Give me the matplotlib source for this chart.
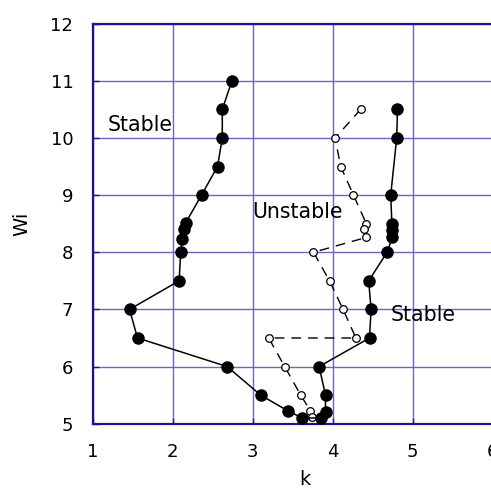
import numpy as np
import matplotlib.pyplot as plt

# stable branch (filled markers, solid line)
k_stable = [2.74, 2.62, 2.62, 2.56, 2.36, 2.16, 2.14, 2.12, 2.10, 2.08, 1.46, 1.56,
            2.68, 3.10, 3.445, 3.62, 3.85, 3.91, 3.91, 3.83, 4.46, 4.48, 4.45,
            4.68, 4.745, 4.74, 4.74, 4.725, 4.80, 4.81]
wi_stable = [11.0, 10.5, 10.0, 9.5, 9.0, 8.51, 8.40, 8.24, 8.0, 7.5, 7.0, 6.5,
             6.0, 5.5, 5.22, 5.10, 5.10, 5.21, 5.5, 6.0, 6.5, 7.0, 7.5,
             8.0, 8.26, 8.39, 8.5, 9.0, 10.0, 10.5]

# unstable branch (open markers, dashed line)
k_unstable = [4.35, 4.03, 4.10, 4.26, 4.42, 4.39, 4.42, 3.76, 3.96, 4.13, 4.29,
              3.20, 3.40, 3.60, 3.72, 3.74]
wi_unstable = [10.5, 10.0, 9.5, 9.0, 8.5, 8.40, 8.26, 8.0, 7.5, 7.0, 6.5,
               6.5, 6.0, 5.5, 5.23, 5.11]

grid_col = "#7262c4"
axis_col = "#1c1488"

fig = plt.figure(figsize=(4.91, 4.90), dpi=100)
ax = fig.add_axes([92.7 / 491, 66.3 / 490, 400 / 491, 400 / 490])

ax.plot(k_unstable, wi_unstable, color="black", linestyle=(0, (7, 5)), linewidth=1.0,
        marker="o", markersize=5.5, markerfacecolor="white", markeredgecolor="black",
        markeredgewidth=0.9, zorder=3)
ax.plot(k_stable, wi_stable, color="black", linewidth=1.1, marker="o", markersize=8,
        markerfacecolor="black", zorder=4)

ax.text(1.19, 10.23, "Stable", fontsize=14.8, va="center", ha="left")
ax.text(3.0, 8.71, "Unstable", fontsize=14.8, va="center", ha="left")
ax.text(4.73, 6.90, "Stable", fontsize=14.8, va="center", ha="left")

ax.set_xlim(1, 6)
ax.set_ylim(5, 12)
ax.set_xticks(np.arange(1, 7))
ax.set_yticks(np.arange(5, 13))
ax.grid(True, color=grid_col, linewidth=1.0)
ax.set_axisbelow(True)

for side in ["left", "bottom", "top", "right"]:
    ax.spines[side].set_color(axis_col)
    ax.spines[side].set_linewidth(1.6)

ax.tick_params(direction="in", length=4, width=1, color=axis_col, labelsize=13, pad=14)
ax.set_xlabel("k", fontsize=14, labelpad=6)
ax.set_ylabel("Wi", fontsize=14, labelpad=14)
ax.xaxis.set_label_coords(0.53, -0.115)

fig.savefig("out.png", dpi=100)
